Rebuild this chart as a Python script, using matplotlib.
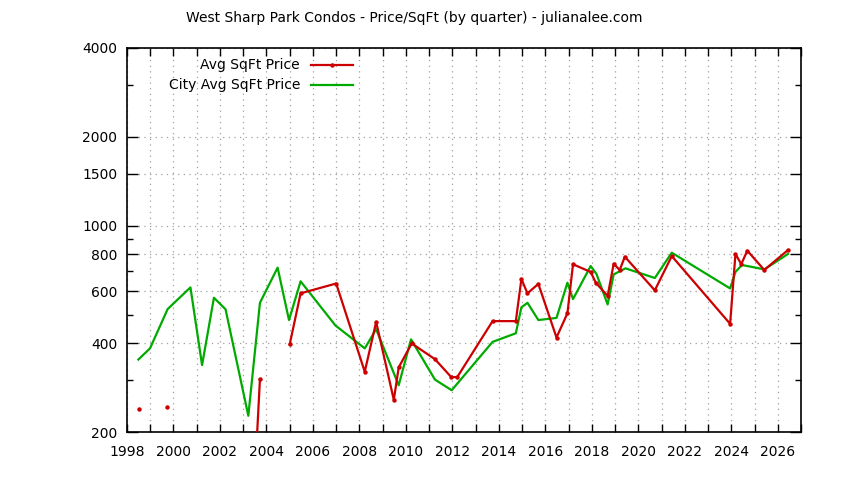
import numpy as np
import matplotlib
matplotlib.use("Agg")
import matplotlib.pyplot as plt
from matplotlib.lines import Line2D
from matplotlib.ticker import FixedLocator, MultipleLocator, NullFormatter

plt.rcParams['font.family'] = ['DejaVu Sans']

title = "West Sharp Park Condos - Price/SqFt (by quarter) - julianalee.com"
label_avg = "Avg SqFt Price"
label_city = "City Avg SqFt Price"

# Avg SqFt Price (NaN = gap in the line)
avg_x = [1998.5, np.nan, 1999.72, np.nan, 2003.5, 2003.72, np.nan,
         2005.0, 2005.47, 2007.0, 2008.23, 2008.72, 2009.48, 2009.69, 2010.25,
         2011.25, 2011.95, 2012.21, 2013.73, 2014.73, 2014.97, 2015.23, 2015.70,
         2016.48, 2016.95, 2017.19, 2017.95, 2018.17, 2018.68, 2018.94, 2019.2,
         2019.42, 2020.71, 2021.44, 2023.95, 2024.18, 2024.43, 2024.69, 2025.42,
         2026.44]
avg_y = [239, np.nan, 243, np.nan, 140, 302, np.nan,
         396, 590, 637, 320, 472, 257, 331, 399,
         353, 307, 307, 475, 475, 660, 590, 635,
         418, 505, 740, 697, 641, 578, 743, 708,
         785, 604, 789, 465, 802, 741, 823, 708,
         827]

# City Avg SqFt Price
city_x = [1998.49, 1998.99, 1999.75, 2000.73, 2001.23, 2001.74, 2002.24, 2003.22,
          2003.72, 2004.48, 2004.97, 2005.47, 2006.97, 2008.23, 2008.72, 2009.69,
          2010.22, 2011.25, 2011.97, 2013.73, 2014.73, 2014.97, 2015.23, 2015.70,
          2016.48, 2016.95, 2017.19, 2017.95, 2018.2, 2018.68, 2018.94, 2019.45,
          2020.71, 2021.44, 2023.95, 2024.18, 2024.46, 2024.89, 2025.42, 2026.44]
city_y = [352, 384, 522, 618, 337, 570, 521, 227,
          548, 721, 479, 648, 459, 384, 446, 288,
          412, 301, 277, 404, 432, 529, 548, 479,
          487, 641, 564, 730, 686, 541, 684, 717,
          665, 810, 613, 697, 736, 725, 711, 802]

y_major = [200, 400, 600, 800, 1000, 1500, 2000, 4000]
y_minor = [300, 500, 700, 900, 3000]

RED = '#cc0000'
GREEN = '#00aa00'

fig = plt.figure(figsize=(8.44, 4.8), dpi=100)
ax = fig.add_axes([127/844, 1-432/480, (801-127)/844, (432-48)/480])

ax.plot(city_x, city_y, color=GREEN, lw=1.6, zorder=3)
ax.plot(avg_x, avg_y, color=RED, lw=1.6, marker='o', markersize=3.2,
        markeredgewidth=0, zorder=4)

ax.set_yscale('log')
ax.set_xlim(1998, 2027)
ax.set_ylim(200, 4000)

ax.yaxis.set_major_locator(FixedLocator(y_major))
ax.yaxis.set_minor_locator(FixedLocator(y_minor))
ax.set_yticklabels([str(v) for v in y_major])
ax.yaxis.set_minor_formatter(NullFormatter())

ax.xaxis.set_major_locator(MultipleLocator(2))
ax.xaxis.set_minor_locator(MultipleLocator(1))
ax.xaxis.set_major_formatter(matplotlib.ticker.FuncFormatter(lambda v, p: f"{int(round(v))}"))

ax.tick_params(axis='both', which='both', direction='in', top=True, right=True,
               labelsize=10, width=1, color='black')
ax.tick_params(axis='x', which='both', length=6, pad=9)
ax.tick_params(axis='y', which='major', length=8, pad=7)
ax.tick_params(axis='y', which='minor', length=4)

grid_kw = dict(color='#a0a0a0', lw=0.9, linestyle=(0, (1, 3.5)))
ax.grid(True, axis='x', which='both', **grid_kw)
ax.grid(True, axis='y', which='major', **grid_kw)
ax.set_axisbelow(True)
for s in ax.spines.values():
    s.set_linewidth(1.2)

fig.text(414/844, 1-18/480, title, ha='center', va='center', fontsize=10)

# legend (gnuplot style: right-aligned text, sample to the right)
for i, (lab, col, mk) in enumerate([(label_avg, RED, 'o'), (label_city, GREEN, None)]):
    yy = 1 - (65 + 20*i)/480
    fig.text(300/844, yy, lab, ha='right', va='center', fontsize=10)
    fig.add_artist(Line2D([311/844, 353/844], [yy, yy], color=col, lw=1.6,
                          transform=fig.transFigure))
    if mk:
        fig.add_artist(Line2D([332/844], [yy], color=col, marker=mk, markersize=3.2,
                              markeredgewidth=0, transform=fig.transFigure))

fig.savefig('out.png', dpi=100)
